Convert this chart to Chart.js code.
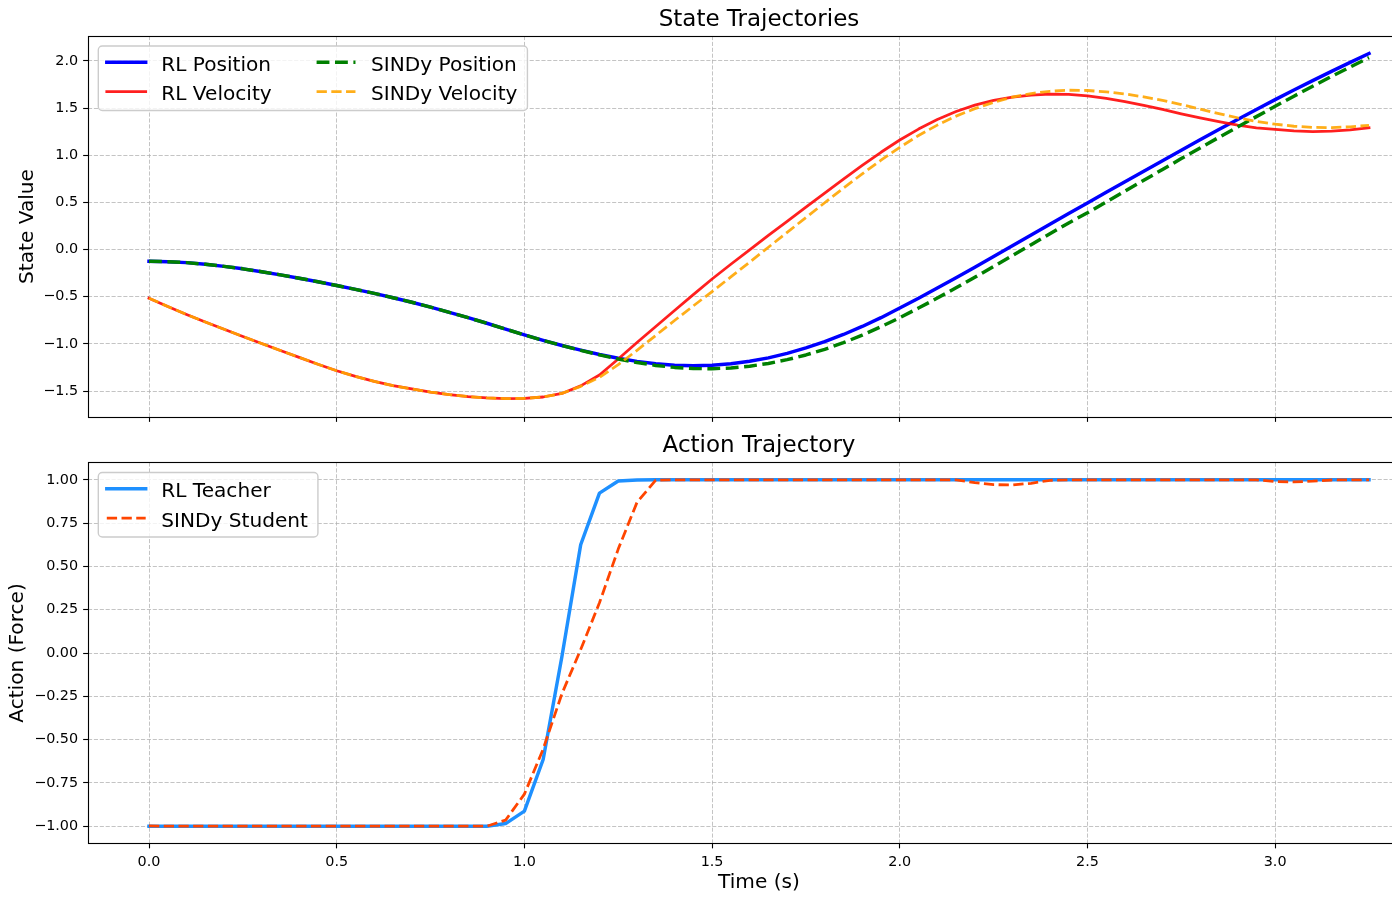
<!DOCTYPE html>
<html><head><meta charset="utf-8">
<script src="https://cdn.jsdelivr.net/npm/chart.js@4.4.0/dist/chart.umd.min.js"></script>
<style>
html,body{margin:0;padding:0;background:#fff;overflow:hidden;width:1392px;height:898px;}
#c1{position:absolute;left:0;top:0;}
#c2{position:absolute;left:0;top:420px;}
</style></head><body>
<canvas id="c1" width="1440" height="422"></canvas>
<canvas id="c2" width="1440" height="478"></canvas>
<script>
// ---------- data ----------
const time = [0.00,0.05,0.10,0.15,0.20,0.25,0.30,0.35,0.40,0.45,0.50,0.55,0.60,0.65,0.70,0.75,0.80,0.85,0.90,0.95,
  1.00,1.05,1.10,1.15,1.20,1.25,1.30,1.35,1.40,1.45,1.50,1.55,1.60,1.65,1.70,1.75,1.80,1.85,1.90,1.95,
  2.00,2.05,2.10,2.15,2.20,2.25,2.30,2.35,2.40,2.45,2.50,2.55,2.60,2.65,2.70,2.75,2.80,2.85,2.90,2.95,
  3.00,3.05,3.10,3.15,3.20,3.25];

const rlPosition = [-0.124,-0.128,-0.138,-0.155,-0.178,-0.204,-0.235,-0.268,-0.303,-0.341,
  -0.381,-0.422,-0.464,-0.510,-0.558,-0.610,-0.665,-0.722,-0.781,-0.843,
  -0.905,-0.963,-1.017,-1.066,-1.112,-1.152,-1.185,-1.210,-1.226,-1.232,
  -1.226,-1.210,-1.184,-1.148,-1.100,-1.042,-0.976,-0.900,-0.815,-0.722,
  -0.620,-0.515,-0.408,-0.298,-0.186,-0.073,0.041,0.155,0.269,0.382,
  0.495,0.608,0.720,0.832,0.943,1.054,1.164,1.273,1.380,1.486,
  1.590,1.692,1.792,1.890,1.986,2.080];

const sindyPosition = [-0.124,-0.128,-0.138,-0.155,-0.178,-0.204,-0.235,-0.268,-0.303,-0.341,
  -0.381,-0.422,-0.464,-0.510,-0.558,-0.610,-0.665,-0.722,-0.781,-0.843,
  -0.905,-0.963,-1.017,-1.068,-1.116,-1.160,-1.198,-1.228,-1.249,-1.261,
  -1.263,-1.255,-1.236,-1.207,-1.167,-1.117,-1.057,-0.987,-0.907,-0.818,
  -0.722,-0.620,-0.514,-0.405,-0.293,-0.179,-0.064,0.052,0.168,0.283,
  0.390,0.505,0.620,0.735,0.850,0.965,1.078,1.190,1.300,1.410,
  1.520,1.627,1.732,1.836,1.937,2.036];

const rlVelocity = [-0.515,-0.603,-0.688,-0.768,-0.845,-0.921,-0.996,-1.070,-1.143,-1.215,
  -1.285,-1.345,-1.398,-1.442,-1.478,-1.510,-1.537,-1.558,-1.573,-1.580,
  -1.578,-1.563,-1.525,-1.445,-1.330,-1.160,-0.985,-0.815,-0.645,-0.478,
  -0.312,-0.155,-0.002,0.150,0.300,0.450,0.600,0.748,0.893,1.032,
  1.162,1.278,1.380,1.465,1.532,1.582,1.616,1.638,1.649,1.646,
  1.630,1.603,1.570,1.530,1.486,1.440,1.396,1.356,1.320,1.292,
  1.274,1.260,1.252,1.256,1.270,1.292];

const sindyVelocity = [-0.515,-0.603,-0.688,-0.768,-0.845,-0.921,-0.996,-1.070,-1.143,-1.215,
  -1.285,-1.345,-1.398,-1.442,-1.478,-1.510,-1.537,-1.558,-1.573,-1.580,
  -1.578,-1.563,-1.525,-1.450,-1.355,-1.220,-1.068,-0.910,-0.752,-0.597,
  -0.445,-0.290,-0.133,0.025,0.183,0.340,0.497,0.652,0.803,0.948,
  1.085,1.210,1.320,1.415,1.495,1.562,1.617,1.655,1.679,1.690,
  1.687,1.673,1.650,1.620,1.582,1.538,1.490,1.442,1.398,1.360,
  1.330,1.308,1.296,1.294,1.302,1.318];

const rlTeacher = [-1,-1,-1,-1,-1,-1,-1,-1,-1,-1,
  -1,-1,-1,-1,-1,-1,-1,-1,-1,-0.985,
  -0.913,-0.615,-0.02,0.625,0.923,0.993,0.999,1,1,1,
  1,1,1,1,1,1,1,1,1,1,
  1,1,1,1,1,1,1,1,1,1,
  1,1,1,1,1,1,1,1,1,1,
  1,1,1,1,1,1];

const sindyStudent = [-0.998,-1,-1,-1,-1,-1,-1,-1,-1,-1,
  -1,-1,-1,-1,-1,-1,-1,-1,-1,-0.965,
  -0.815,-0.555,-0.235,0.02,0.29,0.60,0.87,0.998,1,1,
  1,1,1,1,1,1,1,1,1,1,
  1,1,1,1,0.984,0.972,0.970,0.980,0.997,1,
  1,1,1,1,1,1,1,1,1,1,
  0.990,0.988,0.992,0.999,1,1];

const stateTicks = [-1.5,-1.0,-0.5,0.0,0.5,1.0,1.5,2.0];
const actionTicks = [-1.0,-0.75,-0.5,-0.25,0.0,0.25,0.5,0.75,1.0];
const timeTicks = [0.0,0.5,1.0,1.5,2.0,2.5,3.0];

// ---------- helpers ----------
const PT = 100/72;
const FS = 1.035;            // text width correction
const FONT = 'DejaVu Sans';
Chart.defaults.font.family = FONT;
Chart.defaults.color = '#000';

function fmt(v, d){ const s = Math.abs(v).toFixed(d); return (v < -1e-9 ? '\u2212' : '') + s; }
function pts(arr){ return time.map((t,i)=>({x:t, y:arr[i]})); }

const framePlugin = {
  id:'frame',
  afterDatasetsDraw(chart){
    const {ctx, chartArea:a} = chart;
    ctx.save();
    ctx.strokeStyle = '#000'; ctx.lineWidth = 0.8*PT; ctx.setLineDash([]);
    ctx.strokeRect(Math.round(a.left)+0.5, Math.round(a.top)+0.5, Math.round(a.right-a.left), Math.round(a.bottom-a.top));
    ctx.restore();
  }
};

const legendPlugin = {
  id:'mplLegend',
  afterDraw(chart, args, opts){
    if (!opts || !opts.columns) return;
    const {ctx, chartArea:a} = chart;
    const base = 14*PT;
    const fs = base*FS;
    ctx.save();
    ctx.font = fs + 'px "' + FONT + '"';
    const handleLen = 2.0*base, textPad = 0.8*base, colSp = 2.0*base + 6;
    const x0 = a.left + 10.3, y0 = a.top + 10.0;
    const rowH = 29.4, firstRow = 16.3;
    const dsets = chart.data.datasets;
    let cx = x0 + 8.5;
    const colX = []; let maxRows = 0;
    opts.columns.forEach(c => {
      colX.push(cx);
      const w = Math.max(...c.map(i => ctx.measureText(dsets[i].label).width));
      cx += handleLen + textPad + w + colSp;
      maxRows = Math.max(maxRows, c.length);
    });
    const right = cx - colSp + 10;
    const bottom = y0 + firstRow + (maxRows-1)*rowH + 18.8;
    ctx.beginPath();
    if (ctx.roundRect) ctx.roundRect(x0, y0, right-x0, bottom-y0, 4); else ctx.rect(x0, y0, right-x0, bottom-y0);
    ctx.fillStyle = 'rgba(255,255,255,0.8)'; ctx.fill();
    ctx.strokeStyle = '#cccccc'; ctx.lineWidth = 1.0*PT; ctx.stroke();
    opts.columns.forEach((c,ci) => c.forEach((i,ri) => {
      const ds = dsets[i];
      const y = y0 + firstRow + ri*rowH;
      ctx.beginPath();
      ctx.strokeStyle = ds.borderColor; ctx.lineWidth = ds.borderWidth;
      const dashed = ds.borderDash && ds.borderDash.length;
      ctx.setLineDash(dashed ? ds.borderDash : []);
      ctx.lineCap = dashed ? 'butt' : 'square';
      ctx.moveTo(colX[ci], y); ctx.lineTo(colX[ci] + handleLen, y); ctx.stroke();
      ctx.setLineDash([]);
      ctx.fillStyle = '#000'; ctx.textBaseline = 'alphabetic'; ctx.textAlign = 'left';
      ctx.fillText(ds.label, colX[ci] + handleLen + textPad, y + 0.42*fs);
    }));
    ctx.restore();
  }
};

function lineDs(label, arr, color, lw, dashed, order){
  return {
    label, data: pts(arr), borderColor: color, borderWidth: lw*PT,
    borderDash: dashed ? [3.7*lw*PT, 1.6*lw*PT] : [],
    borderCapStyle: dashed ? 'butt' : 'square', borderJoinStyle: 'round',
    pointRadius: 0, pointHoverRadius: 0, pointHitRadius: 0, tension: 0, fill: false, order
  };
}

const gridCommon = {
  color: 'rgba(176,176,176,0.85)', lineWidth: 0.8*PT*0.8,
  tickColor: '#000', tickWidth: 0.8*PT, tickLength: 3.5*PT, drawTicks: true
};
const borderCommon = { display: false, dash: [2.96*PT, 1.28*PT] };
const tickFont = { family: FONT, size: 10*PT*FS };
const labelFont = { family: FONT, size: 14*PT*FS };
const titleFont = { family: FONT, size: 16*PT*FS, weight: 'normal' };

function xScale(showLabels, h){
  return {
    type: 'linear', min: -0.1625, max: 3.4125,
    afterBuildTicks: s => { s.ticks = timeTicks.map(v => ({value: v})); },
    afterFit: s => { s.height = h; s.paddingLeft = 0; s.paddingRight = 0; },
    grid: gridCommon, border: borderCommon,
    ticks: { display: showLabels, font: tickFont, color: '#000', padding: 5, maxRotation: 0, autoSkip: false,
             callback: v => fmt(v, 1) },
    title: showLabels ? { display: true, text: 'Time (s)', color: '#000', font: labelFont, padding: {top: 0, bottom: 3.2} } : {display: false}
  };
}
function yScale(min, max, tickArr, dec, title, titlePad){
  return {
    type: 'linear', min, max,
    afterBuildTicks: s => { s.ticks = tickArr.map(v => ({value: v})); },
    afterFit: s => { s.width = 88; s.paddingTop = 0; s.paddingBottom = 0; },
    grid: gridCommon, border: borderCommon,
    ticks: { font: tickFont, color: '#000', padding: 5, autoSkip: false, callback: v => fmt(v, dec) },
    title: { display: true, text: title, color: '#000', font: labelFont, padding: {top: titlePad, bottom: 0} }
  };
}

// ---------- top chart ----------
new Chart(document.getElementById('c1'), {
  type: 'line',
  data: { datasets: [
    lineDs('RL Position', rlPosition, '#0000ff', 2.5, false, 4),
    lineDs('RL Velocity', rlVelocity, 'rgba(255,0,0,0.88)', 2, false, 3),
    lineDs('SINDy Position', sindyPosition, '#008000', 2.5, true, 2),
    lineDs('SINDy Velocity', sindyVelocity, 'rgba(255,165,0,0.9)', 2, true, 1)
  ]},
  options: {
    responsive: false, animation: false, devicePixelRatio: 1,
    layout: { padding: { left: 0, right: 10, top: 0, bottom: 0 } },
    plugins: {
      legend: { display: false }, tooltip: { enabled: false },
      title: { display: true, text: 'State Trajectories', color: '#000', fullSize: false,
               font: titleFont, padding: { top: 6.2, bottom: 2.2 } },
      mplLegend: { columns: [[0,1],[2,3]] }
    },
    scales: {
      x: xScale(false, 5),
      y: yScale(-1.775, 2.265, stateTicks, 1, 'State Value', 15.4)
    }
  },
  plugins: [framePlugin, legendPlugin]
});

// ---------- bottom chart ----------
new Chart(document.getElementById('c2'), {
  type: 'line',
  data: { datasets: [
    lineDs('RL Teacher', rlTeacher, '#1e90ff', 2.5, false, 2),
    lineDs('SINDy Student', sindyStudent, '#ff4500', 2, true, 1)
  ]},
  options: {
    responsive: false, animation: false, devicePixelRatio: 1,
    layout: { padding: { left: 0, right: 10, top: 0, bottom: 0 } },
    plugins: {
      legend: { display: false }, tooltip: { enabled: false },
      title: { display: true, text: 'Action Trajectory', color: '#000', fullSize: false,
               font: titleFont, padding: { top: 12.2, bottom: 2.7 } },
      mplLegend: { columns: [[0,1]] }
    },
    scales: {
      x: xScale(true, 54.5),
      y: yScale(-1.1, 1.1, actionTicks, 2, 'Action (Force)', 5.4)
    }
  },
  plugins: [framePlugin, legendPlugin]
});
</script>
</body></html>
